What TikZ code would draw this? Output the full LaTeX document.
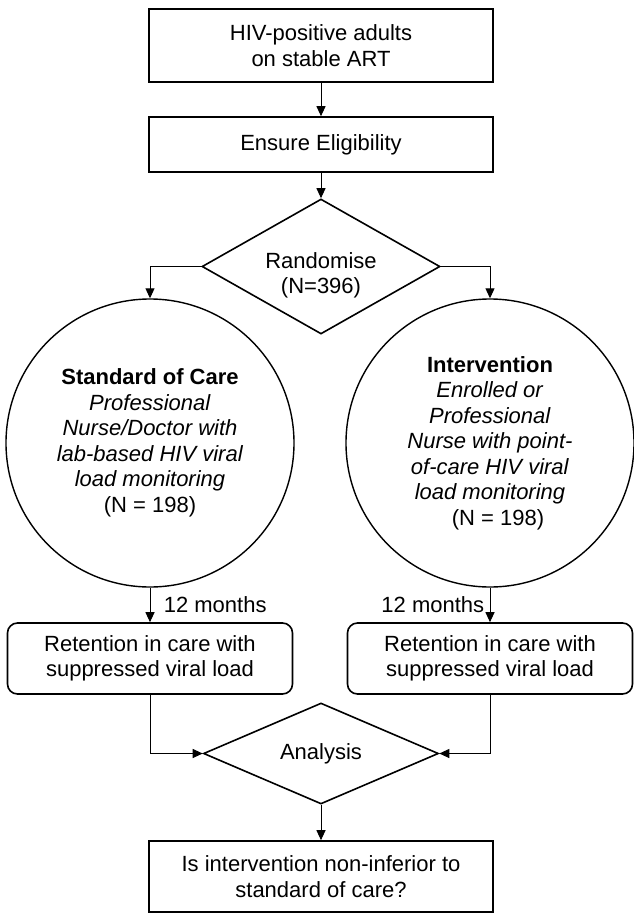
\documentclass[tikz,border=0pt]{standalone}
\usepackage{fontspec}
\setmainfont{Liberation Sans}
\usepackage{tikz}
\usetikzlibrary{arrows.meta}
\usetikzlibrary{shapes.geometric}
\usetikzlibrary{positioning}

\begin{document}
\begin{tikzpicture}[x=1pt,y=-1pt,>={Triangle[length=10pt,width=9pt]}, auto, on grid, semithick, font=\fontsize{22pt}{25.5pt}\selectfont]
	\tikzstyle{block}=[draw, line width=1.6pt, rectangle, minimum width=344pt, inner sep=0pt, align=center]
	\tikzstyle{decision}=[draw, line width=1.6pt, diamond, aspect=1.8, inner sep=0pt, align=center]
	\tikzstyle{arm}=[draw, line width=1.4pt, circle, minimum size=288pt, inner sep=0pt, align=center]
	\tikzstyle{outcome}=[draw, line width=1.6pt, rectangle, rounded corners=10pt, minimum width=285pt, minimum height=71pt, inner sep=0pt, align=center]
	\tikzstyle{link}=[line width=1pt]

	\useasboundingbox (0,0) rectangle (633,913);

	\node[block, minimum height=73pt] (adults) at (321,45.5) {HIV-positive adults\\on stable ART};
	\node[block, minimum height=55pt] (elig) [below=99pt of adults] {Ensure Eligibility};
	\node[decision, minimum width=238pt, minimum height=135pt] (rand) [below=122pt of elig] {\rule{0pt}{34pt}Randomise\\(N=396)};

	\node[arm] (soc) [below left=176.5pt and 171pt of rand] {\textbf{Standard of Care}\\\textit{Professional}\\\textit{Nurse/Doctor with}\\\textit{lab-based HIV viral}\\\textit{load monitoring}\\(N = 198)};
	\node[arm] (int) [below right=176.5pt and 169pt of rand] {\textbf{Intervention}\\\textit{Enrolled or}\\\textit{Professional}\\\textit{Nurse with point-}\\\textit{of-care HIV viral}\\\textit{load monitoring}\\\hspace*{16pt}(N = 198)};

	\node[outcome] (ret1) [below=215.5pt of soc] {Retention in care with\\suppressed viral load};
	\node[outcome] (ret2) [below=215.5pt of int] {Retention in care with\\suppressed viral load};

	\node[decision, minimum width=235pt, minimum height=101pt] (ana) [below=487pt of rand] {Analysis};
	\node[block, minimum height=71pt] (final) [below=123pt of ana] {Is intervention non-inferior to\\standard of care?};

	\draw[link,->] (adults) -- (elig);
	\draw[link,->] (elig) -- (rand);
	\draw[link,->] (rand) -| (soc);
	\draw[link,->] (rand) -| (int);
	\draw[link,->] (soc) -- node[xshift=10pt] {12 months} (ret1);
	\draw[link,->] (int) -- node[swap,xshift=-2pt] {12 months} (ret2);
	\draw[link,->] (ret1) |- (ana);
	\draw[link,->] (ret2) |- (ana);
	\draw[link,->] (ana) -- (final);
\end{tikzpicture}
\end{document}
